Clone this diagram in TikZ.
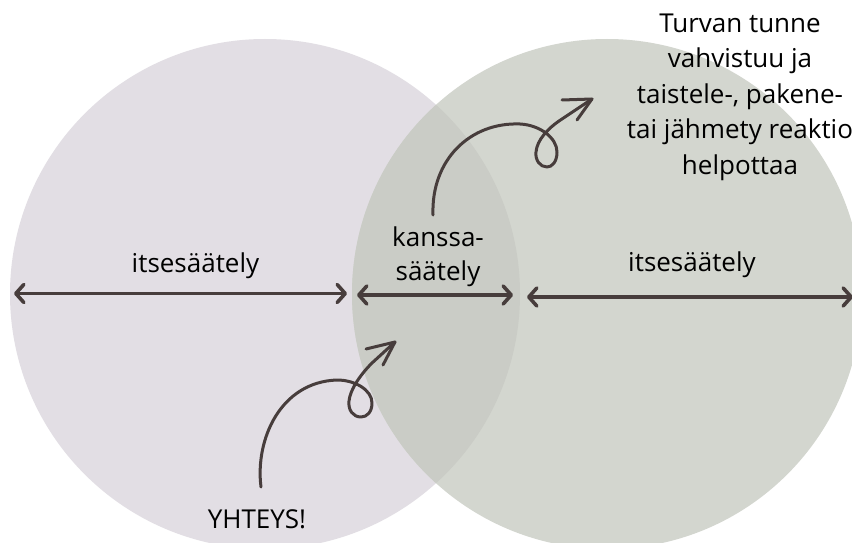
\documentclass[tikz,border=0pt]{standalone}
\usepackage{fontspec}
\setmainfont{Open Sans}
\usetikzlibrary{arrows.meta}
\definecolor{leftfill}{HTML}{E2DEE4}
\definecolor{rightfill}{HTML}{D3D6CF}
\definecolor{overlapfill}{HTML}{CACCC6}
\definecolor{ink}{RGB}{71,61,60}
\tikzset{
  barbtip/.tip={Straight Barb[length=8pt,width=18pt,line cap=round,line join=round]},
}
\begin{document}
\begin{tikzpicture}[x=1pt,y=-1pt,
  lbl/.style={font=\fontsize{26}{35.5}\selectfont, inner sep=0pt, text=black, anchor=base},
  span/.style={draw=ink, line width=3.6pt, {barbtip}-{barbtip}},
  curl/.style={draw=ink, line width=3pt, line cap=round, line join=round}]
\useasboundingbox (0,0) rectangle (852,543);
\clip (0,0) rectangle (852,543);
\fill[white] (0,0) rectangle (852,543);

% the two overlapping circles
\fill[leftfill] (265,294) circle[radius=255];
\fill[rightfill] (607,294) circle[radius=255];
\begin{scope}
  \clip (265,294) circle[radius=255];
  \fill[overlapfill] (607,294) circle[radius=255];
\end{scope}

% labels
\node[lbl] (selfL) at (195.5,272) {itsesäätely};
\node[lbl] (coA) at (438,246.7) {kanssa-};
\node[lbl] (coB) at (438,280) {säätely};
\node[lbl] (selfR) at (692,271.7) {itsesäätely};
\node[lbl] (link) at (257,528) {YHTEYS!};
\node[lbl] (t1) at (740,33) {Turvan tunne};
\node[lbl] (t2) at (740,68) {vahvistuu ja};
\node[lbl] (t3) at (740,103.5) {taistele-, pakene-};
\node[lbl] (t4) at (740,139) {tai jähmety reaktio};
\node[lbl] (t5) at (740,174.5) {helpottaa};

% end points of the horizontal spans
\coordinate (aL1) at (14,293.5);
\coordinate (aL2) at (347,293.5);
\coordinate (aM1) at (357,295);
\coordinate (aM2) at (513,295);
\coordinate (aR1) at (527,297);
\coordinate (aR2) at (853,297);
\draw[span] (aL1) -- (aL2);
\draw[span] (aM1) -- (aM2);
\draw[span] (aR1) -- (aR2);

% curly arrow from the co-regulation label up to the text
\coordinate (upS) at (433,215);
\coordinate (upT) at (592,99);
\draw[curl] (upS) .. controls (431,160) and (470,122) .. (520,124)
  .. controls (540,125) and (557,138) .. (557,152)
  .. controls (557,162) and (552,167) .. (547,167)
  .. controls (540,167) and (535,160) .. (536,152)
  .. controls (537,140) and (548,128) .. (562,119) -- (upT);
\draw[curl] (562,100) -- (upT) -- (577,120);

% curly arrow from YHTEYS! into the overlap
\coordinate (loS) at (261,487);
\coordinate (loT) at (395,342);
\draw[curl] (loS) .. controls (255,440) and (280,382) .. (337,380)
  .. controls (355,380) and (372,390) .. (372,403)
  .. controls (372,412) and (367,417) .. (361,417)
  .. controls (353,417) and (348,410) .. (349,401)
  .. controls (350,390) and (360,375) .. (372,363) -- (loT);
\draw[curl] (366,349) -- (loT) -- (383,365);
\end{tikzpicture}
\end{document}
